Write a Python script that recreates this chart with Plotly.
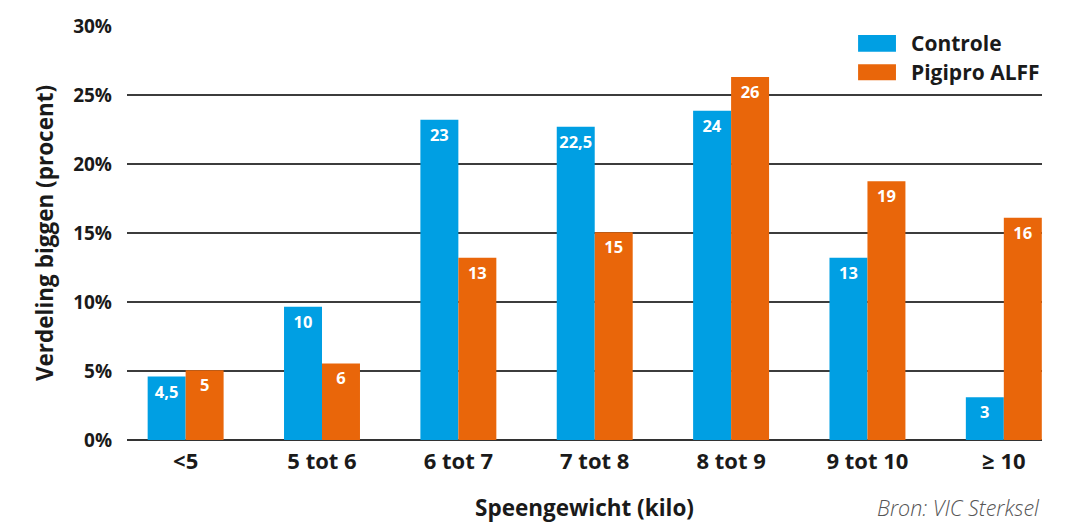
import plotly.graph_objects as go

categories = ["<5", "5 tot 6", "6 tot 7", "7 tot 8", "8 tot 9", "9 tot 10", "≥ 10"]
controle_values = [4.6, 9.65, 23.2, 22.7, 23.85, 13.2, 3.1]
controle_labels = ["4,5", "10", "23", "22,5", "24", "13", "3"]
pigipro_values = [5.05, 5.55, 13.2, 15.05, 26.3, 18.75, 16.1]
pigipro_labels = ["5", "6", "13", "15", "26", "19", "16"]
series_names = ["Controle", "Pigipro ALFF"]
y_ticks = [0, 5, 10, 15, 20, 25, 30]
y_tick_labels = ["0%", "5%", "10%", "15%", "20%", "25%", "30%"]

BLUE = "#009fe3"
ORANGE = "#e9660a"
COLORS = [BLUE, ORANGE]
FONT = "Open Sans"
TXT = "#1a1a1a"

fig = go.Figure()
for name, vals, labs, col in zip(series_names, [controle_values, pigipro_values],
                                 [controle_labels, pigipro_labels], COLORS):
    fig.add_trace(go.Bar(
        x=list(range(len(categories))), y=vals, name=name,
        marker=dict(color=col, line=dict(width=0)),
        text=labs, textposition="inside", insidetextanchor="end",
        textangle=0, constraintext="none",
        textfont=dict(family=FONT, size=16.5, color="white", weight="bold"),
        hoverinfo="skip", showlegend=False,
    ))

# legend drawn as swatches + labels (paper coordinates)
shapes = []
annotations = []
legend_rows = [(0.978, 0.9379), (0.9075, 0.8689)]
for (y1, y0), name, col in zip(legend_rows, series_names, COLORS):
    shapes.append(dict(type="rect", xref="paper", yref="paper",
                       x0=0.799, x1=0.8404, y0=y0, y1=y1,
                       fillcolor=col, line=dict(width=0)))
    annotations.append(dict(text=name, xref="paper", yref="paper",
                            x=0.8546, y=(y0 + y1) / 2, xanchor="left", yanchor="middle",
                            showarrow=False,
                            font=dict(family=FONT, size=21, color=TXT, weight="bold")))

annotations += [
    dict(text="Speengewicht (kilo)", xref="paper", yref="paper",
         x=0.5, y=-0.162, xanchor="center", yanchor="middle", showarrow=False,
         font=dict(family=FONT, size=22.5, color=TXT, weight="bold")),
    dict(text="Verdeling biggen (procent)", xref="paper", yref="paper",
         x=-0.0906, y=0.5, xanchor="center", yanchor="middle", showarrow=False,
         textangle=-90,
         font=dict(family=FONT, size=22.5, color=TXT, weight="bold")),
    dict(text="Bron: VIC Sterksel", xref="paper", yref="paper",
         x=1.0, y=-0.162, xanchor="right", yanchor="middle", showarrow=False,
         font=dict(family=FONT, size=21.5, color="#555555", style="italic", weight=300)),
]

fig.update_layout(
    width=1059, height=517,
    margin=dict(l=119, r=25, t=18, b=85),
    paper_bgcolor="white", plot_bgcolor="white",
    barmode="group", bargap=0.443, bargroupgap=0,
    font=dict(family=FONT, color=TXT),
    showlegend=False,
    xaxis=dict(
        range=[-0.43, 6.28], automargin=False,
        tickmode="array", tickvals=list(range(len(categories))), ticktext=categories,
        tickfont=dict(family=FONT, size=22, color=TXT, weight="bold"),
        showgrid=False, zeroline=False, showline=False, ticks="",
        ticklabelstandoff=6,
    ),
    yaxis=dict(
        range=[0, 30], automargin=False,
        tickmode="array", tickvals=y_ticks, ticktext=y_tick_labels,
        tickfont=dict(family=FONT, size=19, color=TXT, weight="bold"),
        showgrid=True, gridcolor="#3c3c3c", gridwidth=1.5,
        zeroline=True, zerolinecolor="#333333", zerolinewidth=2,
        showline=False, ticks="", ticklabelstandoff=14,
    ),
    shapes=shapes,
    annotations=annotations,
)

fig.write_html("out.html")
